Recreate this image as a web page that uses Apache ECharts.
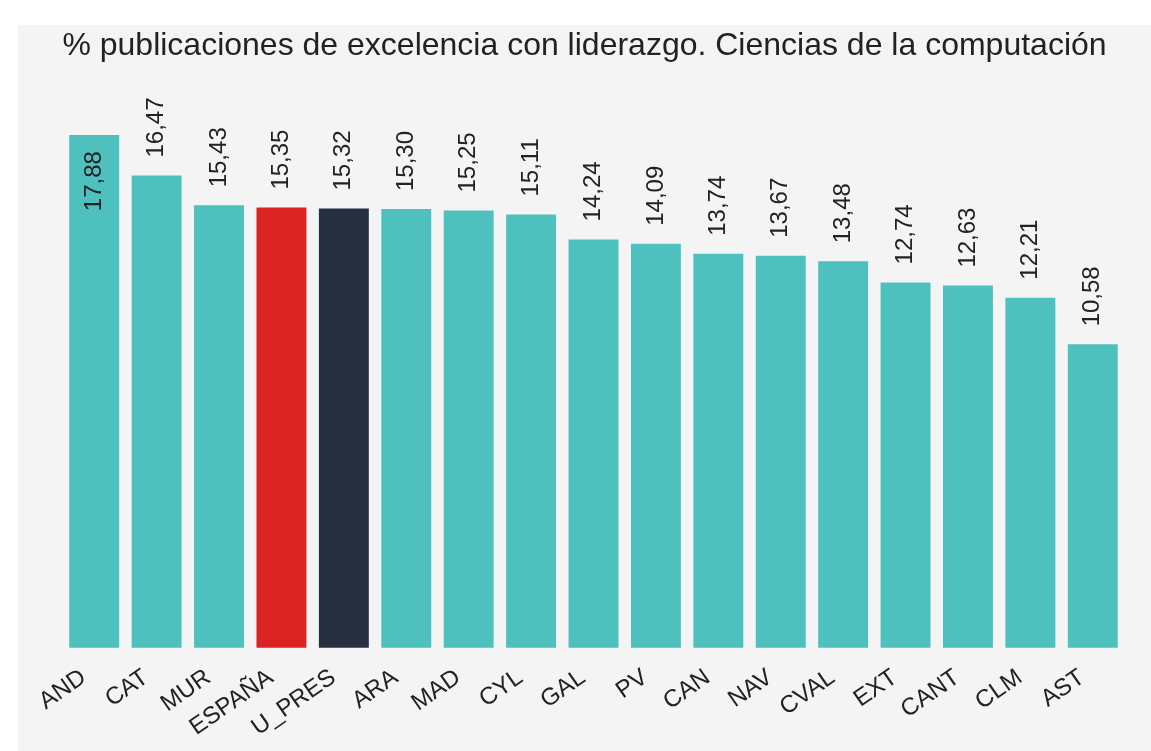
<!DOCTYPE html>
<html>
<head>
<meta charset="utf-8">
<script src="https://cdn.jsdelivr.net/npm/echarts@6/dist/echarts.min.js"></script>
<style>
  html, body { margin: 0; padding: 0; background: #ffffff; width: 1151px; height: 751px; overflow: hidden; }
  #chart { position: absolute; left: 18px; top: 25px; width: 1133px; height: 726px; }
</style>
</head>
<body>
<div id="chart"></div>
<script>
// Regions and reference aggregates, sorted by share of leading excellence papers
const categories = ['AND', 'CAT', 'MUR', 'ESPAÑA', 'U_PRES', 'ARA', 'MAD', 'CYL', 'GAL', 'PV', 'CAN', 'NAV', 'CVAL', 'EXT', 'CANT', 'CLM', 'AST'];
const values = [17.88, 16.47, 15.43, 15.35, 15.32, 15.30, 15.25, 15.11, 14.24, 14.09, 13.74, 13.67, 13.48, 12.74, 12.63, 12.21, 10.58];
const titleText = '% publicaciones de excelencia con liderazgo. Ciencias de la computación';

const TEAL = '#4ec1be';
const RED = '#dc2323';
const DARK = '#262f3f';
const FONT = '"Liberation Sans", Arial, sans-serif';

function barColor(name) {
  if (name === 'ESPAÑA') return RED;
  if (name === 'U_PRES') return DARK;
  return TEAL;
}

const fmt = v => v.toFixed(2).replace('.', ',');
const maxVal = Math.max(...values);

const seriesData = values.map((v, i) => {
  const item = { value: v, itemStyle: { color: barColor(categories[i]) } };
  if (v === maxVal) {
    // tallest bar carries its label inside, near the top
    item.label = { position: 'insideTop', align: 'right', distance: 16 };
  }
  return item;
});

const chart = echarts.init(document.getElementById('chart'), null, { renderer: 'canvas' });
chart.setOption({
  backgroundColor: '#f4f4f4',
  animation: false,
  title: {
    text: titleText,
    left: 'center',
    top: 0,
    textStyle: { fontFamily: FONT, fontSize: 32, fontWeight: 'normal', color: '#222222' }
  },
  grid: { left: 45, right: 27, top: 49.3, bottom: 103.3, containLabel: false },
  xAxis: {
    type: 'category',
    data: categories,
    axisLine: { show: false },
    axisTick: { show: false },
    axisLabel: {
      rotate: 35,
      margin: 20,
      interval: 0,
      padding: [0, 13, 0, 0],
      fontFamily: FONT,
      fontSize: 24,
      color: '#222222'
    }
  },
  yAxis: {
    type: 'value',
    min: 0,
    max: 20,
    show: false,
    splitLine: { show: false }
  },
  series: [{
    type: 'bar',
    data: seriesData,
    barCategoryGap: '20%',
    label: {
      show: true,
      position: 'top',
      rotate: 90,
      align: 'left',
      verticalAlign: 'middle',
      distance: 18,
      fontFamily: FONT,
      fontSize: 24,
      color: '#222222',
      formatter: p => fmt(p.value)
    }
  }]
});
</script>
</body>
</html>
